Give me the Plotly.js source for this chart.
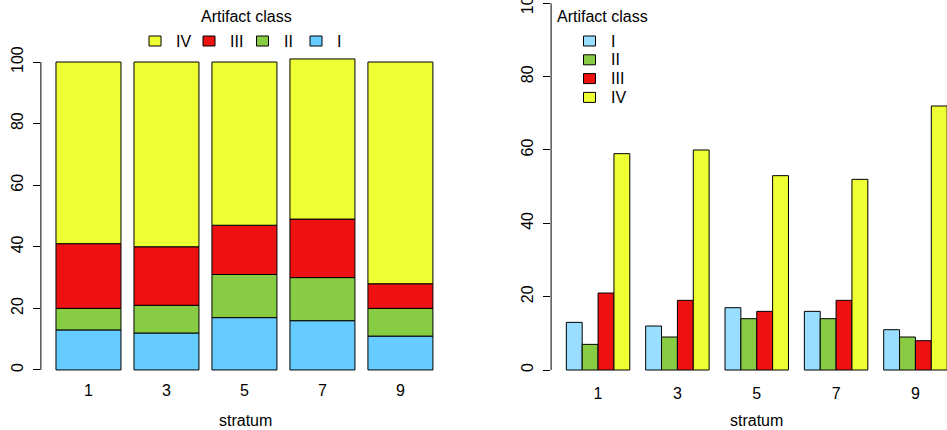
<!DOCTYPE html>
<html>
<head>
<meta charset="utf-8">
<script src="https://cdn.plot.ly/plotly-3.0.1.min.js"></script>
<style>html,body{margin:0;padding:0;background:#fff;}#chart{width:947px;height:430px;}</style>
</head>
<body>
<div id="chart"></div>
<script>
// ---- data ----
const strata = ['1', '3', '5', '7', '9'];
const classI   = [13, 12, 17, 16, 11];
const classII  = [7, 9, 14, 14, 9];
const classIII = [21, 19, 16, 19, 8];
const classIV  = [59, 60, 53, 52, 72];
const classNames = ['I', 'II', 'III', 'IV'];
const yTicks = [0, 20, 40, 60, 80, 100];
const legendTitle = 'Artifact class';
const xTitle = 'stratum';

// ---- styles ----
const leftColors  = ['#66CCFF', '#88CC44', '#EE1111', '#EEFF33'];
const rightColors = ['#99DDFF', '#88CC44', '#EE1111', '#EEFF33'];
const FONT = 'Liberation Sans, Arial, Helvetica, sans-serif';
const W = 947, H = 430;
const px = v => v / W;           // pixel x -> paper
const py = v => (H - v) / H;     // pixel y -> paper

const series = [classI, classII, classIII, classIV];
const traces = [];

// left: stacked bars (bases built from the series)
let base = strata.map(() => 0);
series.forEach((vals, i) => {
  traces.push({
    type: 'bar', x: strata, y: vals, base: base.slice(),
    width: 1 / 1.2, name: classNames[i], showlegend: false,
    marker: {color: leftColors[i], line: {color: '#000', width: 1}},
    xaxis: 'x', yaxis: 'y', hoverinfo: 'skip'
  });
  base = base.map((b, j) => b + vals[j]);
});

// right: grouped bars
series.forEach((vals, i) => {
  traces.push({
    type: 'bar', x: strata, y: vals,
    width: 0.2, offset: -0.4 + 0.2 * i,
    name: classNames[i], showlegend: false,
    marker: {color: rightColors[i], line: {color: '#000', width: 1}},
    xaxis: 'x2', yaxis: 'y2', hoverinfo: 'skip'
  });
});

const tickFont = {family: FONT, size: 16, color: '#000'};
const yax = (dom, rng) => ({
  domain: dom, range: rng, tickmode: 'array', tickvals: yTicks, ticktext: yTicks.map(String),
  ticks: 'outside', ticklen: 7, tickcolor: '#000', tickwidth: 1,
  tickangle: -90, tickfont: tickFont, showgrid: false, zeroline: false, showline: false,
  ticklabeloverflow: 'allow', ticklabelstandoff: 4, fixedrange: true
});
const xax = (dom, rng) => ({
  domain: dom, range: rng, type: 'category', showgrid: false, zeroline: false,
  showline: false, ticks: '', tickfont: tickFont, ticklabelstandoff: -3, fixedrange: true
});

const shapes = [
  {type: 'line', xref: 'x domain', yref: 'y', x0: 0, x1: 0, y0: 0, y1: 100, line: {color: '#000', width: 1}},
  {type: 'line', xref: 'x2 domain', yref: 'y2', x0: 0, x1: 0, y0: 0, y1: 100, line: {color: '#000', width: 1}}
];
const annotations = [
  {text: xTitle, xref: 'paper', yref: 'paper', x: px(245), y: py(420), xanchor: 'center', yanchor: 'middle', showarrow: false, font: {family: FONT, size: 16}},
  {text: xTitle, xref: 'paper', yref: 'paper', x: px(756.7), y: py(420), xanchor: 'center', yanchor: 'middle', showarrow: false, font: {family: FONT, size: 16}}
];

// legend boxes/labels (built from class names and colours)
function legendEntry(label, color, bx, by) {
  shapes.push({type: 'rect', xref: 'paper', yref: 'paper',
    x0: px(bx - 6), x1: px(bx + 6), y0: py(by + 5), y1: py(by - 5),
    fillcolor: color, line: {color: '#000', width: 1}});
  annotations.push({text: label, xref: 'paper', yref: 'paper', x: px(bx + 19), y: py(by),
    xanchor: 'left', yanchor: 'middle', showarrow: false, font: {family: FONT, size: 16}});
}
// left legend: horizontal, reversed order
annotations.push({text: legendTitle, xref: 'paper', yref: 'paper', x: px(246), y: py(16),
  xanchor: 'center', yanchor: 'middle', showarrow: false, font: {family: FONT, size: 16}});
const leftBoxX = [155, 209, 262.5, 316];
[3, 2, 1, 0].forEach((ci, k) => legendEntry(classNames[ci], leftColors[ci], leftBoxX[k], 41));
// right legend: vertical
annotations.push({text: legendTitle, xref: 'paper', yref: 'paper', x: px(554.5), y: py(16),
  xanchor: 'left', yanchor: 'middle', showarrow: false, font: {family: FONT, size: 16}});
classNames.forEach((nm, i) => legendEntry(nm, rightColors[i], 589.5, 41 + 18.8 * i));

const layout = {
  width: W, height: H,
  margin: {l: 0, r: 0, t: 0, b: 0, pad: 0},
  paper_bgcolor: '#fff', plot_bgcolor: 'rgba(0,0,0,0)',
  barmode: 'overlay', showlegend: false,
  font: {family: FONT, size: 16, color: '#000'},
  xaxis: xax([px(40.9), px(448)], [-0.61, 4.61]),
  yaxis: Object.assign(yax([py(382.4), py(46.5)], [-4.04, 105.04]), {anchor: 'x'}),
  xaxis2: Object.assign(xax([px(551.1), 1], [-0.592, 4.398]), {anchor: 'y2'}),
  yaxis2: Object.assign(yax([py(384.7), 1], [-4, 100.9]), {anchor: 'x2'}),
  shapes: shapes,
  annotations: annotations
};

Plotly.newPlot('chart', traces, layout, {displayModeBar: false, staticPlot: true});
</script>
</body>
</html>
